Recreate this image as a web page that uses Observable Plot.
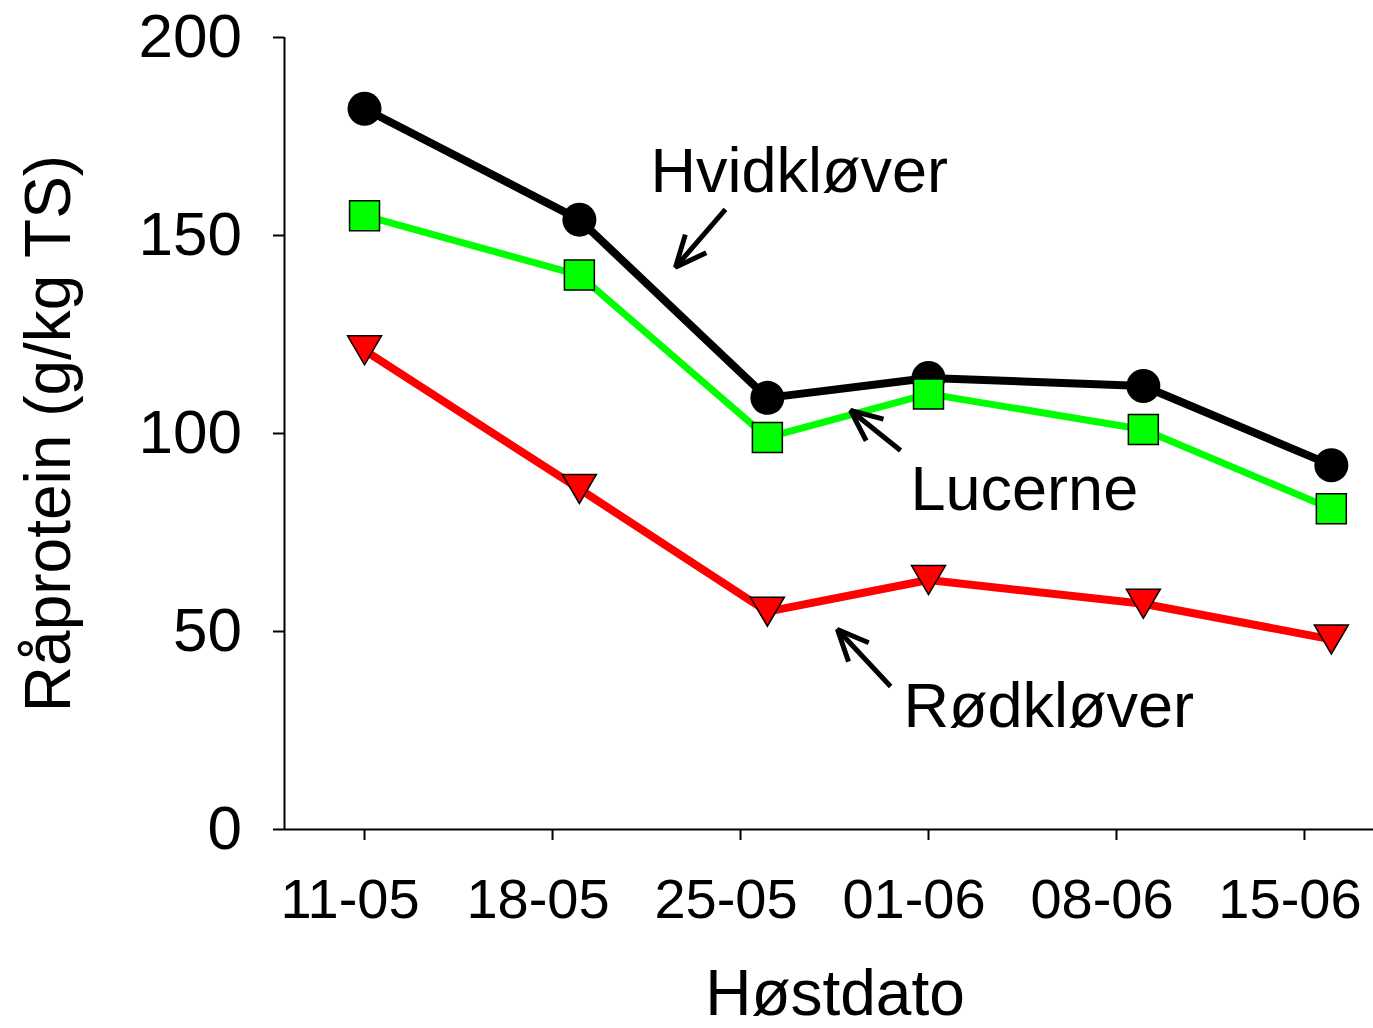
<!DOCTYPE html>
<html><head><meta charset="utf-8">
<script src="https://cdn.jsdelivr.net/npm/d3@7"></script>
<script src="https://cdn.jsdelivr.net/npm/@observablehq/plot@0.6"></script>
<style>body{margin:0;background:#fff;} svg{display:block;}</style>
</head><body><div id="chart"></div>
<script>
// ---- data ----
const harvestDates = ["2000-05-11", "2000-05-19", "2000-05-26", "2000-06-01", "2000-06-09", "2000-06-16"];
const hvidklover = [182, 154, 109, 114, 112, 92];
const lucerne = [155, 140, 99, 110, 101, 81];
const rodklover = [121, 86, 55, 63, 57, 48];
const xTickDates = ["2000-05-11", "2000-05-18", "2000-05-25", "2000-06-01", "2000-06-08", "2000-06-15"];
const yTicks = [0, 50, 100, 150, 200];
const xTitle = "Høstdato";
const yTitle = "Råprotein (g/kg TS)";
// annotations (x in days after 11-05, y in g/kg TS)
const annLabels = ["Hvidkløver", "Lucerne", "Rødkløver"];
const annLabelDay = [10.65, 20.33, 20.07];
const annLabelValue = [166.0, 85.7, 30.9];
const arrowTailDay = [13.44, 19.96, 19.59];
const arrowTailValue = [156.6, 95.7, 36.1];
const arrowTipDay = [11.58, 18.10, 17.61];
const arrowTipValue = [142.0, 105.8, 50.5];

// ---- setup ----
const W = 1373, H = 1028;
const margin = {top: 37, right: 0, bottom: 199, left: 284};
const t0 = Date.UTC(2000, 4, 11);
const day = n => new Date(t0 + n * 864e5);
const xDomain = [day(-2.98), day(37.57)];
const xOpts = {type: "utc", domain: xDomain, range: [margin.left, W - margin.right]};
const yOpts = {type: "linear", domain: [0, 200], range: [H - margin.bottom, margin.top]};
const xs = Plot.scale({x: xOpts}), ys = Plot.scale({y: yOpts});

const mk = (vals, series) => vals.map((v, i) => ({date: new Date(harvestDates[i]), value: v, series}));
const hRows = mk(hvidklover, "Hvidkløver");
const lRows = mk(lucerne, "Lucerne");
const rRows = mk(rodklover, "Rødkløver");

const downTriangle = {
  draw(context, size) {
    const r = Math.sqrt(size / Math.PI);
    const h = r * 29 / 34;
    context.moveTo(-r, -h);
    context.lineTo(r, -h);
    context.lineTo(0, h);
    context.closePath();
  }
};

// arrows: shaft + open head computed in pixel space, mapped back to data
const headLen = 34, half = 24 * Math.PI / 180;
const shafts = [], heads = [];
annLabels.forEach((_, i) => {
  const tx = xs.apply(day(arrowTailDay[i])), ty = ys.apply(arrowTailValue[i]);
  const px = xs.apply(day(arrowTipDay[i])), py = ys.apply(arrowTipValue[i]);
  const a = Math.atan2(ty - py, tx - px);
  shafts.push({x1: day(arrowTailDay[i]), y1: arrowTailValue[i], x2: day(arrowTipDay[i]), y2: arrowTipValue[i]});
  const w = s => ({x: xs.invert(px + headLen * Math.cos(a + s * half)), y: ys.invert(py + headLen * Math.sin(a + s * half)), z: i});
  heads.push(w(-1), {x: day(arrowTipDay[i]), y: arrowTipValue[i], z: i}, w(1));
});
const annRows = annLabels.map((t, i) => ({label: t, x: day(annLabelDay[i]), y: annLabelValue[i]}));
const fmt = d3.utcFormat("%d-%m");
const xTickValues = xTickDates.map(d => new Date(d));

const chart = Plot.plot({
  width: W, height: H,
  marginTop: margin.top, marginRight: margin.right, marginBottom: margin.bottom, marginLeft: margin.left,
  x: xOpts, y: yOpts,
  style: {fontFamily: "'Liberation Sans', Arial, sans-serif", background: "white", color: "black", overflow: "visible"},
  marks: [
    Plot.ruleY([0], {stroke: "black", strokeWidth: 2}),
    Plot.ruleX([xDomain[0]], {stroke: "black", strokeWidth: 2}),
    Plot.axisY({ticks: yTicks, tickSize: 11, tickPadding: 31.5, fontSize: 62, strokeWidth: 2, label: null}),
    Plot.axisX({ticks: xTickValues, tickFormat: () => "", tickSize: 11, strokeWidth: 2, label: null}),
    Plot.axisX({ticks: xTickValues, tickFormat: fmt, tickSize: 0, tickPadding: 49, dx: -14.5, fontSize: 56, label: null}),
    Plot.text([xTitle], {text: d => d, frameAnchor: "bottom", textAnchor: "middle", lineAnchor: "middle", dx: 6, dy: 165, fontSize: 64}),
    Plot.text([yTitle], {text: d => d, frameAnchor: "left", textAnchor: "middle", lineAnchor: "middle", rotate: -90, dx: -234.5, fontSize: 64}),
    Plot.line(hRows, {x: "date", y: "value", stroke: "black", strokeWidth: 8}),
    Plot.dot(hRows, {x: "date", y: "value", r: 17, fill: "black"}),
    Plot.line(lRows, {x: "date", y: "value", stroke: "#00ff00", strokeWidth: 7}),
    Plot.dot(lRows, {x: "date", y: "value", symbol: "square", r: 16.9, fill: "#00ff00", stroke: "black", strokeWidth: 1.5}),
    Plot.line(rRows, {x: "date", y: "value", stroke: "#ff0000", strokeWidth: 8}),
    Plot.dot(rRows, {x: "date", y: "value", symbol: downTriangle, r: 17, fill: "#ff0000", stroke: "black", strokeWidth: 1.5}),
    Plot.link(shafts, {x1: "x1", y1: "y1", x2: "x2", y2: "y2", stroke: "black", strokeWidth: 5}),
    Plot.line(heads, {x: "x", y: "y", z: "z", stroke: "black", strokeWidth: 5, strokeLinejoin: "miter", strokeLinecap: "butt"}),
    Plot.text(annRows, {x: "x", y: "y", text: "label", textAnchor: "start", fontSize: 63})
  ]
});
document.getElementById("chart").append(chart);
</script>
</body></html>
